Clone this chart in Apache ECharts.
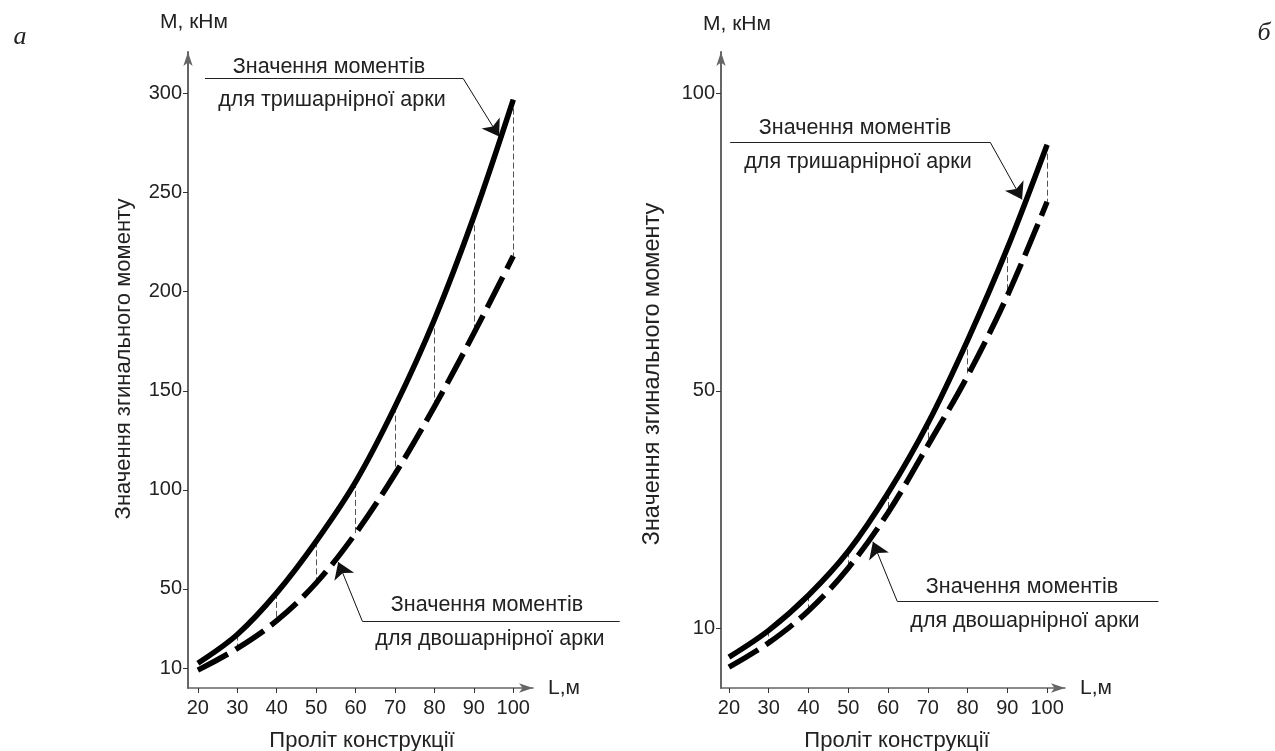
<!DOCTYPE html>
<html>
<head>
<meta charset="utf-8">
<script src="https://cdn.jsdelivr.net/npm/echarts@6/dist/echarts.min.js"></script>
<style>
  html, body { margin: 0; padding: 0; background: #fff; }
  #chart { width: 1275px; height: 751px; }
</style>
</head>
<body>
<div id="chart"></div>
<script>
// span of the structure, m
const spans = [20, 30, 40, 50, 60, 70, 80, 90, 100]

// panel a
const threeHingedA = [12.5, 27, 48, 74, 104, 142, 186, 238, 297]
const twoHingedA = [9, 20, 34, 53, 78, 108, 142, 179, 218]
// panel б
const threeHingedB = [5.2, 9.7, 15.6, 23, 32.8, 44.5, 58.5, 74, 91.4]
const twoHingedB = [3.5, 7.6, 13, 20.2, 29.5, 40.8, 52.5, 66, 81.8]

const xTicks = [20, 30, 40, 50, 60, 70, 80, 90, 100]
const yTicksA = [10, 50, 100, 150, 200, 250, 300]
const yTicksB = [10, 50, 100]

// callouts: underline start/end and arrow tip, in data units
const calloutA3 = [[21.8, 307.6], [87.3, 307.6], [96.4, 278.3]]
const calloutA2 = [[127, 33.8], [61.7, 33.8], [55.6, 63.6]]
const calloutB3 = [[20.3, 91.8], [85.7, 91.8], [93.7, 82.2]]
const calloutB2 = [[128, 14.6], [62.3, 14.6], [56.2, 24.6]]

const line1 = 'Значення моментів'
const line2Three = 'для тришарнірної арки'
const line2Two = 'для двошарнірної арки'
const yTitle = 'Значення згинального моменту'

const FONT = '"Liberation Sans", Arial, sans-serif'
const AXIS_COLOR = '#666'
const TEXT_COLOR = '#222'

const chart = echarts.init(document.getElementById('chart'), null, { renderer: 'canvas' })

function xAxisFor(gridIndex, min, max) {
  return {
    type: 'value', gridIndex, min, max,
    name: 'L,м', nameGap: 15,
    nameTextStyle: { fontFamily: FONT, fontSize: 21, color: TEXT_COLOR },
    axisLine: { symbol: ['none', 'arrow'], symbolSize: [7, 14], lineStyle: { color: AXIS_COLOR, width: 1.5 } },
    axisTick: { customValues: xTicks, length: 5, lineStyle: { color: '#333' } },
    axisLabel: { customValues: xTicks, fontFamily: FONT, fontSize: 20, color: TEXT_COLOR, margin: 10 },
    splitLine: { show: false },
  }
}

function yAxisFor(gridIndex, max, ticks) {
  return {
    type: 'value', gridIndex, min: 0, max,
    axisLine: { show: true, symbol: ['none', 'arrow'], symbolSize: [7, 14], lineStyle: { color: AXIS_COLOR, width: 2 } },
    axisTick: { show: true, customValues: ticks, length: 5, lineStyle: { color: '#333' } },
    axisLabel: { customValues: ticks, fontFamily: FONT, fontSize: 20, color: TEXT_COLOR, margin: 6 },
    splitLine: { show: false },
  }
}

const zip = (xs, ys) => xs.map((x, i) => [x, ys[i]])

function panelSeries(idx, three, two, calloutThree, calloutTwo) {
  const base = { xAxisIndex: idx, yAxisIndex: idx }
  const connectors = spans.slice(1).map((x, i) => ({ coords: [[x, three[i + 1]], [x, two[i + 1]]] }))
  return [
    {
      ...base, type: 'lines', coordinateSystem: 'cartesian2d', z: 1, silent: true,
      lineStyle: { color: '#555', width: 1, type: [6, 3], opacity: 1 },
      data: connectors,
    },
    {
      ...base, type: 'line', z: 3, smooth: 0.35, showSymbol: false, silent: true,
      lineStyle: { color: '#000', width: 5.5 },
      data: zip(spans, three),
    },
    {
      ...base, type: 'line', z: 3, smooth: 0.35, showSymbol: false, silent: true,
      lineStyle: { color: '#000', width: 5.5, type: [34, 9] },
      data: zip(spans, two),
    },
    {
      ...base, type: 'lines', coordinateSystem: 'cartesian2d', clip: false, z: 4, silent: true,
      lineStyle: { color: '#222', width: 1, opacity: 1 },
      data: [calloutThree, calloutTwo].map(c => ({ coords: [c[0], c[1]] })),
    },
    {
      ...base, type: 'lines', coordinateSystem: 'cartesian2d', clip: false, z: 4, silent: true,
      symbol: ['none', 'arrow'], symbolSize: 16,
      lineStyle: { color: '#111', width: 1, opacity: 1 },
      data: [calloutThree, calloutTwo].map(c => ({ coords: [c[1], c[2]] })),
    },
  ]
}

const text = (x, y, str, font, rotation) => ({
  type: 'text', x, y, rotation: rotation || 0, silent: true,
  style: { text: str, font: font || ('21.5px ' + FONT), fill: TEXT_COLOR, align: 'center', verticalAlign: 'middle' },
})

const option = {
  animation: false,
  backgroundColor: '#fff',
  grid: [
    { left: 188, top: 52, width: 345, height: 636 },
    { left: 721, top: 52, width: 344, height: 636 },
  ],
  xAxis: [xAxisFor(0, 17.5, 105), xAxisFor(1, 18, 104.5)],
  yAxis: [yAxisFor(0, 321, yTicksA), yAxisFor(1, 107, yTicksB)],
  series: [
    ...panelSeries(0, threeHingedA, twoHingedA, calloutA3, calloutA2),
    ...panelSeries(1, threeHingedB, twoHingedB, calloutB3, calloutB2),
  ],
  graphic: [
    text(20, 37, 'а', 'italic 26px "Liberation Serif", serif'),
    text(1264, 33, 'б', 'italic 26px "Liberation Serif", serif'),
    text(194, 22, 'М, кНм', '21px ' + FONT),
    text(737, 24, 'М, кНм', '21px ' + FONT),
    text(362, 741, 'Проліт конструкції', '22px ' + FONT),
    text(897, 741, 'Проліт конструкції', '22px ' + FONT),
    text(124, 359, yTitle, '22px ' + FONT, Math.PI / 2),
    text(653, 374, yTitle, '23.5px ' + FONT, Math.PI / 2),
    text(329, 67, line1), text(332, 100, line2Three),
    text(487, 605, line1), text(490, 639, line2Two),
    text(855, 128, line1), text(858, 162, line2Three),
    text(1022, 587, line1), text(1025, 621, line2Two),
  ],
}

chart.setOption(option)
</script>
</body>
</html>
